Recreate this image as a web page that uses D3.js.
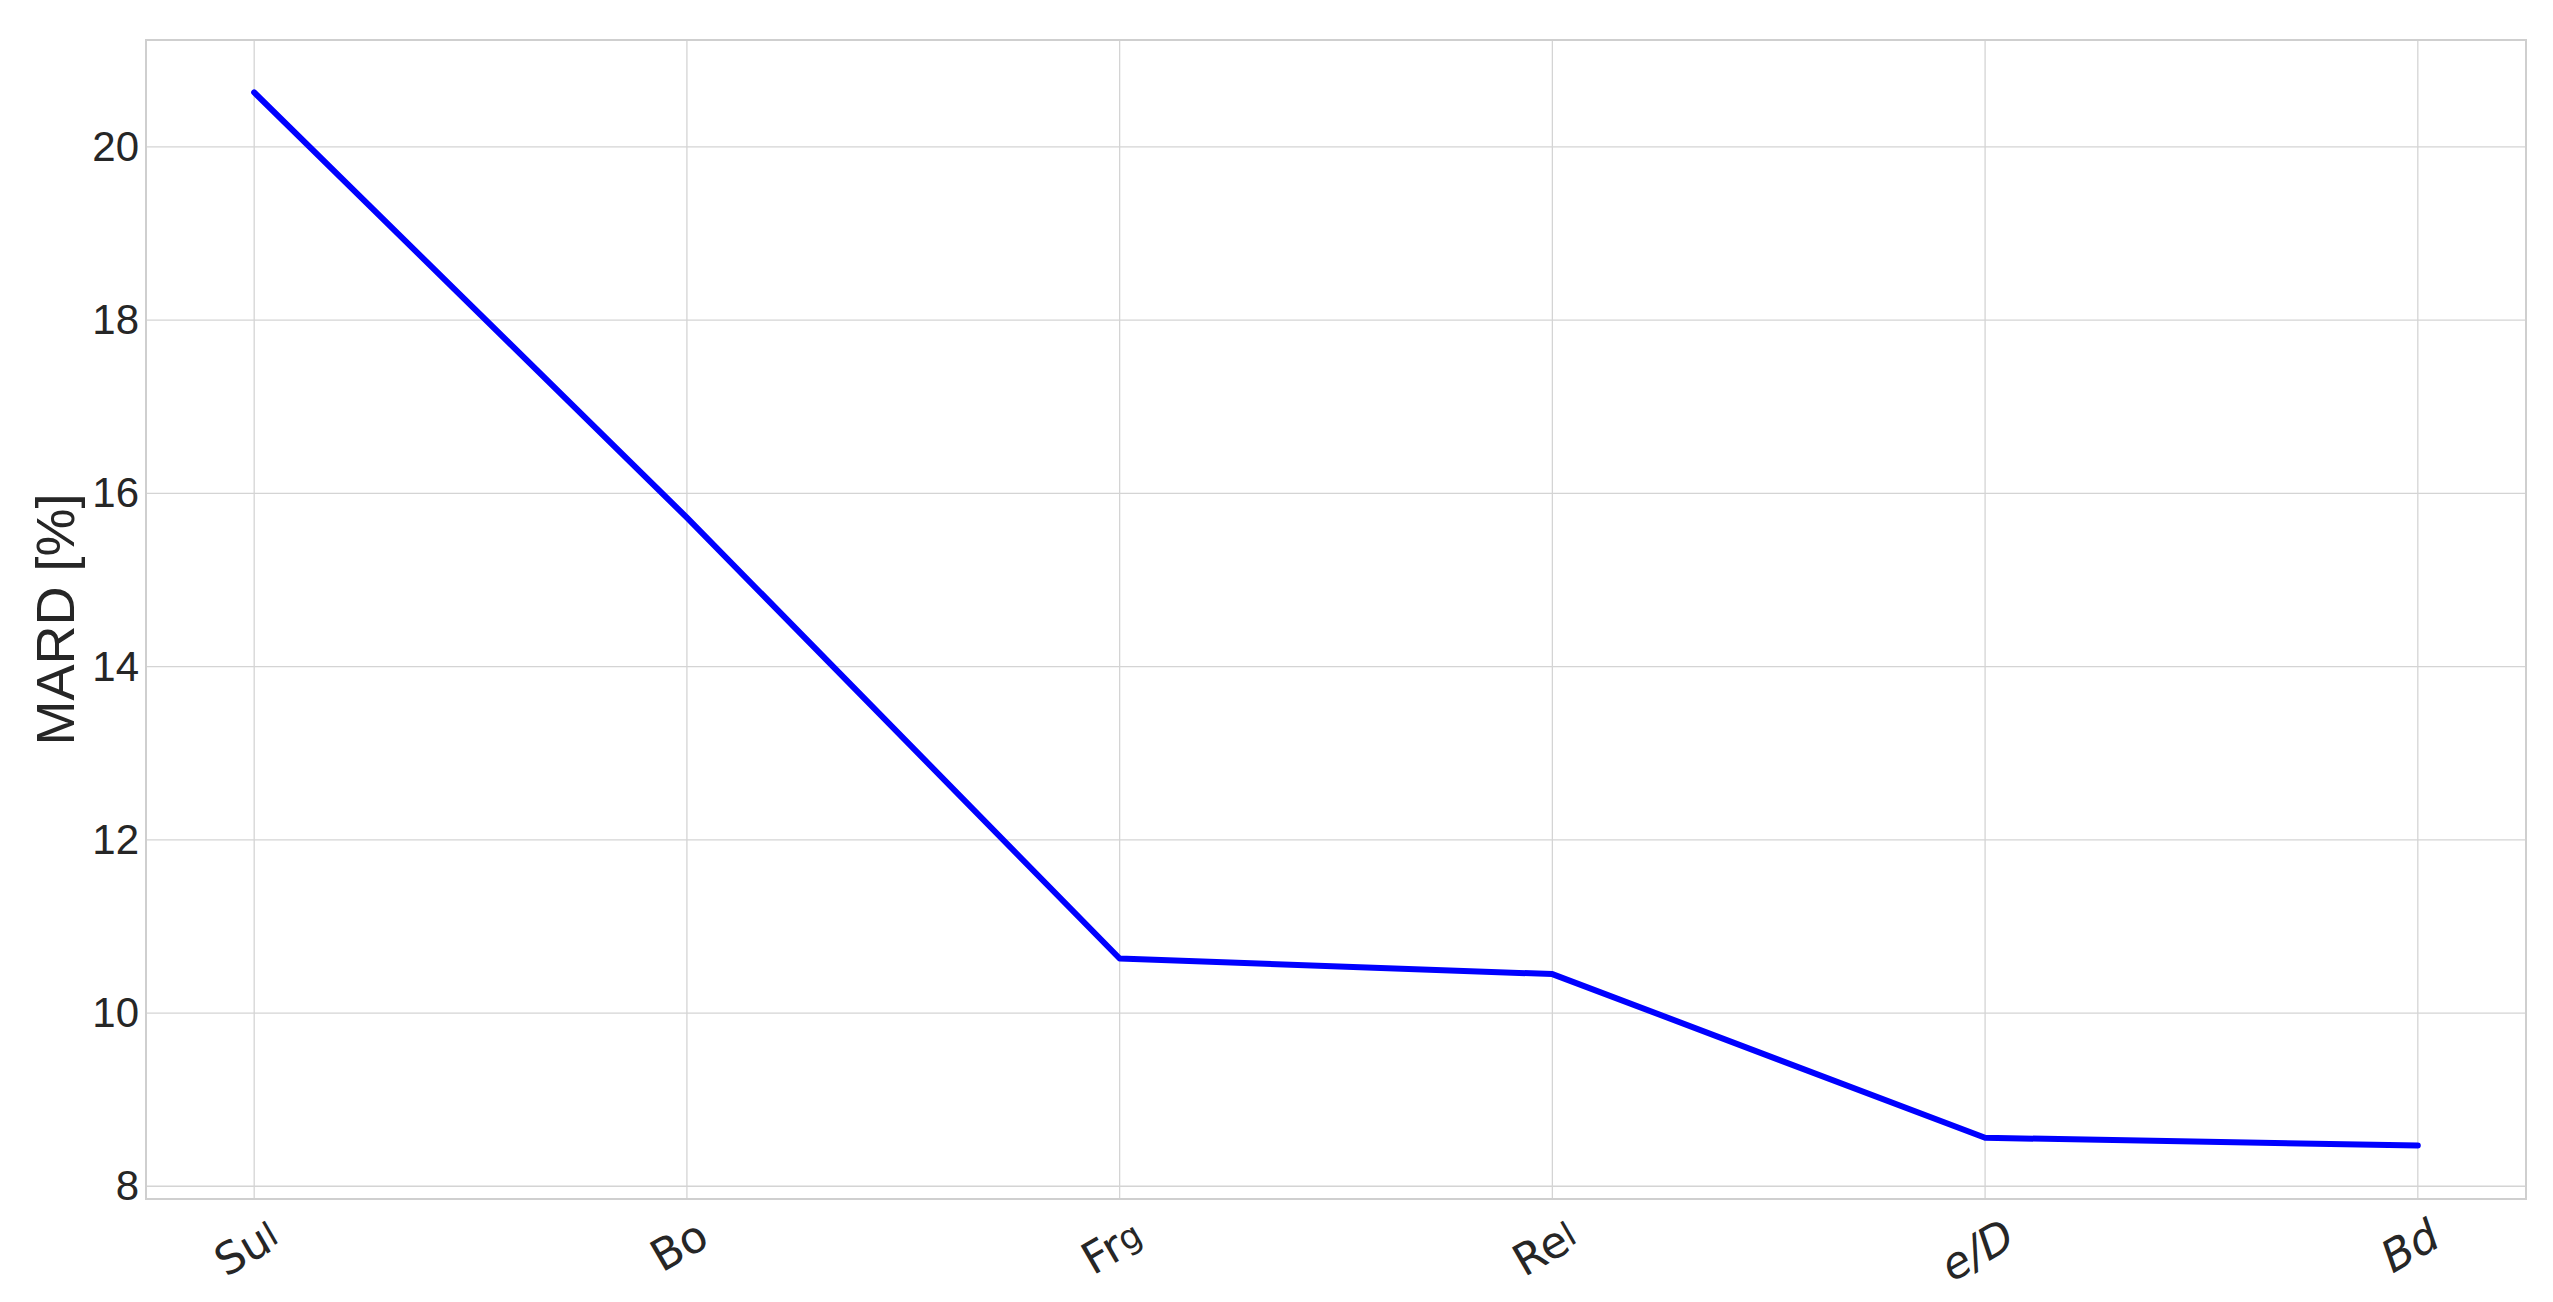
<!DOCTYPE html>
<html>
<head>
<meta charset="utf-8">
<script src="https://cdn.jsdelivr.net/npm/d3@7"></script>
<style>
  body { margin: 0; background: #fff; }
  svg { display: block; }
  .grid line { stroke: #d4d4d4; stroke-width: 1.3; }
  .ytick text { font-family: "Liberation Sans", Arial, sans-serif; font-size: 42px; fill: #262626; }
  .xlab { font-family: "DejaVu Sans", sans-serif; font-size: 44px; fill: #262626; }
</style>
</head>
<body>
<div id="chart"></div>
<script>
  // data
  const categories = ['Sul', 'Bo', 'Frg', 'Rel', 'e/D', 'Bd'];
  const mard = [20.63, 15.72, 10.63, 10.45, 8.56, 8.47];
  const yTicks = [8, 10, 12, 14, 16, 18, 20];

  const W = 2553, H = 1302;
  const margin = {left: 146, right: 27, top: 40, bottom: 103};

  let svg = d3.select('#chart')
    .append('svg')
    .attr('width', W)
    .attr('height', H);

  let x = d3.scalePoint()
    .domain(categories)
    .range([margin.left, W - margin.right])
    .padding(0.25);

  let y = d3.scaleLinear()
    .domain([7.853, 21.235])
    .range([H - margin.bottom, margin.top]);

  // grid
  let grid = svg.append('g').attr('class', 'grid');
  grid.selectAll('.gx')
    .data(categories)
    .enter().append('line')
    .attr('x1', d => x(d)).attr('x2', d => x(d))
    .attr('y1', margin.top).attr('y2', H - margin.bottom);
  grid.selectAll('.gy')
    .data(yTicks)
    .enter().append('line')
    .attr('x1', margin.left).attr('x2', W - margin.right)
    .attr('y1', d => y(d)).attr('y2', d => y(d));

  // frame
  svg.append('rect')
    .attr('x', margin.left)
    .attr('y', margin.top)
    .attr('width', W - margin.left - margin.right)
    .attr('height', H - margin.top - margin.bottom)
    .attr('fill', 'none')
    .attr('stroke', '#cfcfcf')
    .attr('stroke-width', 2);

  // y axis
  let yAxis = svg.append('g')
    .attr('class', 'ytick')
    .attr('transform', `translate(${margin.left},0)`)
    .call(d3.axisLeft(y).tickValues(yTicks).tickSize(0).tickPadding(7));
  yAxis.select('.domain').remove();

  svg.append('text')
    .attr('transform', `translate(55,${(margin.top + H - margin.bottom) / 2}) rotate(-90)`)
    .attr('text-anchor', 'middle')
    .attr('dominant-baseline', 'central')
    .style('font-family', '"Liberation Sans", Arial, sans-serif')
    .style('font-size', '54px')
    .style('fill', '#262626')
    .text('MARD [%]');

  // x labels, rotated 30 degrees and centred under ticks
  const italic = {'e/D': true, 'Bd': true};
  const smallTail = {'Sul': true, 'Frg': true, 'Rel': true};
  categories.forEach(c => {
    let t = svg.append('text')
      .attr('class', 'xlab')
      .attr('text-anchor', 'middle')
      .attr('dominant-baseline', 'central')
      .style('font-style', italic[c] ? 'italic' : 'normal');
    if (smallTail[c]) {
      t.append('tspan').text(c.slice(0, -1));
      t.append('tspan').style('font-size', '34px').text(c.slice(-1));
    } else {
      t.text(c);
    }
    let bb = t.node().getBBox();
    let a = Math.PI / 6;
    let rh = bb.width * Math.sin(a) + bb.height * Math.cos(a);
    let top = H - margin.bottom + 10;
    t.attr('transform', `translate(${x(c) - 8},${top + rh / 2}) rotate(-30)`);
  });

  // line
  let line = d3.line()
    .x((d, i) => x(categories[i]))
    .y(d => y(d));

  svg.append('path')
    .datum(mard)
    .attr('d', line)
    .attr('fill', 'none')
    .attr('stroke', '#0000ff')
    .attr('stroke-width', 6)
    .attr('stroke-linecap', 'round')
    .attr('stroke-linejoin', 'round');
</script>
</body>
</html>
